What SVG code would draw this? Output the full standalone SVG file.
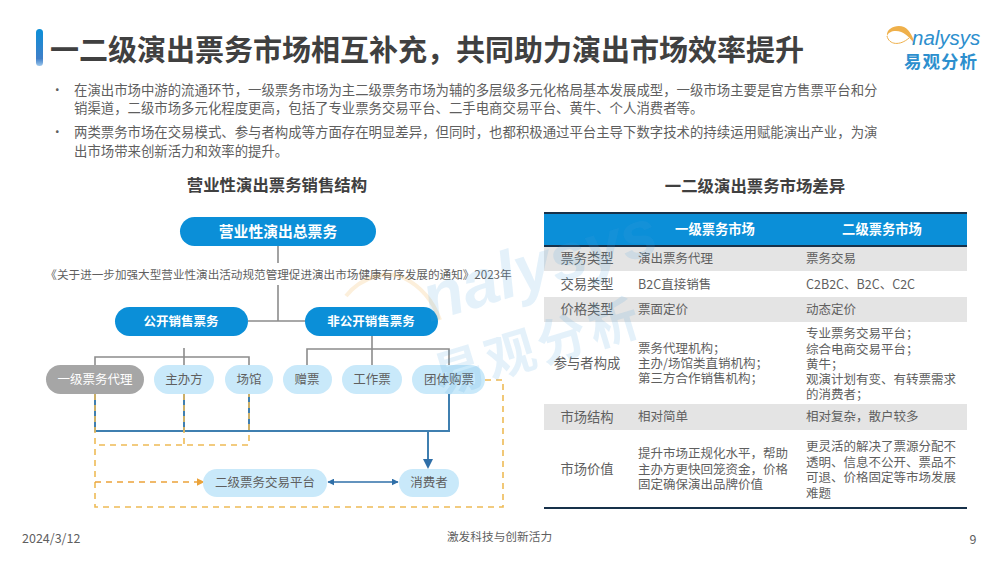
<svg xmlns="http://www.w3.org/2000/svg" width="1000" height="562" viewBox="0 0 1000 562">
<style>
text{font-family:"Noto Sans CJK SC","Liberation Sans",sans-serif;fill:#5f5f5f}
.t{font-size:12.5px}
.p{font-size:13.4px}
.f{font-size:13.3px}
.c{text-anchor:middle}
.h{font-size:16.4px;font-weight:700;fill:#404040;text-anchor:middle}
.w{fill:#fff;font-weight:700;text-anchor:middle}
.blue{fill:#0b8fd8}
.light{fill:#c9e9fa}
.g{fill:none;stroke:#8c8c8c;stroke-width:1.6}
.b{fill:none;stroke:#3f7fb0;stroke-width:2}
.o{fill:none;stroke:#eebb55;stroke-width:1.6;stroke-dasharray:6 5}
.wm{fill:#4a9fdc;fill-opacity:.15;font-weight:700}
</style>
<defs>
<linearGradient id="bar" x1="0" y1="0" x2="0" y2="1"><stop offset="0" stop-color="#0b8fd8"/><stop offset=".8" stop-color="#3f7fc8"/><stop offset="1" stop-color="#9cc7ec"/></linearGradient>
<marker id="ab" markerWidth="5" markerHeight="5" refX="4" refY="2.5" orient="auto" markerUnits="strokeWidth"><path d="M0 0L5 2.5L0 5z" fill="#2f6fa8"/></marker>
<marker id="abs" markerWidth="5" markerHeight="5" refX="4.5" refY="2.5" orient="auto-start-reverse" markerUnits="strokeWidth"><path d="M0 0L5 2.5L0 5z" fill="#2f6fa8"/></marker>
<marker id="ao" markerWidth="5" markerHeight="5" refX="4" refY="2.5" orient="auto" markerUnits="strokeWidth"><path d="M0 0L5 2.5L0 5z" fill="#eba33a"/></marker>
</defs>
<rect width="1000" height="562" fill="#fff"/>

<g id="header">
<rect x="36" y="29" width="7" height="37" rx="3.5" fill="url(#bar)"/>
<text x="50" y="61" style="font-size:29px;font-weight:700;fill:#404040">一二级演出票务市场相互补充，共同助力演出市场效率提升</text>
</g>
<g id="logo">
<path d="M887 36C886 28 897 24 904 27C910 30 913 37 915 45C910 37 903 31 896 31C891 31 888 33 887 36Z" fill="#efb04a"/>
<path d="M887 36C889 45 900 46 909 38" fill="none" stroke="#efb04a" stroke-width="1"/>
<text x="912" y="45" style="font-size:20.5px;font-style:italic;fill:#2d8fce;font-family:'Liberation Sans',sans-serif">nalysys</text>
<text x="904" y="68" style="font-size:17.5px;font-weight:700;fill:#2d8fce;letter-spacing:1px">易观分析</text>
</g>
<g id="bullets">
<text x="51" y="95" class="t">•</text>
<text class="p"><tspan x="74" y="95">在演出市场中游的流通环节，一级票务市场为主二级票务市场为辅的多层级多元化格局基本发展成型，一级市场主要是官方售票平台和分</tspan><tspan x="74" y="113">销渠道，二级市场多元化程度更高，包括了专业票务交易平台、二手电商交易平台、黄牛、个人消费者等。</tspan></text>
<text x="51" y="137" class="t">•</text>
<text class="p"><tspan x="74" y="137">两类票务市场在交易模式、参与者构成等方面存在明显差异，但同时，也都积极通过平台主导下数字技术的持续运用赋能演出产业，为演</tspan><tspan x="74" y="156">出市场带来创新活力和效率的提升。</tspan></text>
</g>

<text x="277" y="191" class="h">营业性演出票务销售结构</text>
<text x="755" y="192" class="h">一二级演出票务市场差异</text>

<g id="connectors">
<path class="g" d="M278 246V263M278 285V321M248 321H305"/>
<path class="g" d="M372 336V365M307 365V349H449V365"/>
<path class="g" d="M184 348V365M95 365V357H249V365"/>
<path class="b" d="M95 394V431H449V394M184 394V431M249 394V431"/>
<path class="o" d="M95 394V445H249V394M184 394V445"/>
<path class="o" d="M485 380H503V507H95V445"/>
<path class="b" d="M428 431V467" marker-end="url(#ab)"/>
<path d="M95 482H203" fill="none" stroke="#eba33a" stroke-width="1.6" stroke-dasharray="6 5" marker-end="url(#ao)"/>
<path d="M328 482H398" fill="none" stroke="#2f6fa8" stroke-width="1.4" marker-start="url(#abs)" marker-end="url(#abs)"/>
</g>

<g id="n-total"><rect class="blue" x="180" y="217" width="196" height="29" rx="14.5"/><text class="w" x="278" y="237" font-size="14.8">营业性演出总票务</text></g>
<g id="n-policy"><text x="278.5" y="279" class="c" style="font-size:11.6px">《关于进一步加强大型营业性演出活动规范管理促进演出市场健康有序发展的通知》2023年</text></g>
<g id="n-public"><rect class="blue" x="115" y="307" width="133" height="29" rx="14.5"/><text class="w" x="181" y="326" font-size="12.5">公开销售票务</text></g>
<g id="n-private"><rect class="blue" x="305" y="307" width="133" height="29" rx="14.5"/><text class="w" x="371" y="326" font-size="12.5">非公开销售票务</text></g>
<g id="n-agent"><rect fill="#a6a6a6" x="46" y="365" width="98" height="29" rx="14.5"/><text x="95" y="384" class="t c" style="fill:#fff">一级票务代理</text></g>
<g id="n-host"><rect class="light" x="154" y="365" width="60" height="29" rx="14.5"/><text x="184" y="384" class="t c">主办方</text></g>
<g id="n-venue"><rect class="light" x="225" y="365" width="48" height="29" rx="14.5"/><text x="249" y="384" class="t c">场馆</text></g>
<g id="n-gift"><rect class="light" x="283" y="365" width="49" height="29" rx="14.5"/><text x="307" y="384" class="t c">赠票</text></g>
<g id="n-staff"><rect class="light" x="342" y="365" width="60" height="29" rx="14.5"/><text x="372" y="384" class="t c">工作票</text></g>
<g id="n-group"><rect class="light" x="412" y="365" width="73" height="29" rx="14.5"/><text x="449" y="384" class="t c">团体购票</text></g>
<g id="n-platform"><rect class="light" x="203" y="469" width="124" height="28" rx="14"/><text x="265" y="487" class="t c">二级票务交易平台</text></g>
<g id="n-consumer"><rect class="light" x="399" y="469" width="60" height="28" rx="14"/><text x="429" y="487" class="t c">消费者</text></g>

<g id="table">
<rect x="544" y="213" width="423" height="33" fill="#0b8fd8"/>
<rect x="544" y="246" width="423" height="25" fill="#e4e4e4"/>
<rect x="544" y="297" width="423" height="25" fill="#e4e4e4"/>
<rect x="544" y="404" width="423" height="26" fill="#e4e4e4"/>
<path d="M544 213H967M544 246H967M544 508H967" stroke="#17314a" stroke-width="1.8" fill="none"/>
<text class="w" x="715" y="234" font-size="13.3">一级票务市场</text>
<text class="w" x="882" y="234" font-size="13.3">二级票务市场</text>
<text class="f c" x="587" y="263">票务类型</text><text class="t" x="638" y="263">演出票务代理</text><text class="t" x="806" y="263">票务交易</text>
<text class="f c" x="587" y="289">交易类型</text><text class="t" x="638" y="289">B2C直接销售</text><text class="t" x="806" y="289">C2B2C、B2C、C2C</text>
<text class="f c" x="587" y="314">价格类型</text><text class="t" x="638" y="314">票面定价</text><text class="t" x="806" y="314">动态定价</text>
<text class="f c" x="587" y="368">参与者构成</text>
<text class="t"><tspan x="638" y="353">票务代理机构；</tspan><tspan x="638" y="368">主办/场馆类直销机构；</tspan><tspan x="638" y="383">第三方合作销售机构；</tspan></text>
<text class="t"><tspan x="806" y="338">专业票务交易平台；</tspan><tspan x="806" y="354">综合电商交易平台；</tspan><tspan x="806" y="369">黄牛；</tspan><tspan x="806" y="384">观演计划有变、有转票需求</tspan><tspan x="806" y="399">的消费者；</tspan></text>
<text class="f c" x="587" y="422">市场结构</text><text class="t" x="638" y="421">相对简单</text><text class="t" x="806" y="421">相对复杂，散户较多</text>
<text class="f c" x="587" y="474">市场价值</text>
<text class="t"><tspan x="638" y="458">提升市场正规化水平，帮助</tspan><tspan x="638" y="474">主办方更快回笼资金，价格</tspan><tspan x="638" y="489">固定确保演出品牌价值</tspan></text>
<text class="t"><tspan x="806" y="451">更灵活的解决了票源分配不</tspan><tspan x="806" y="467">透明、信息不公开、票品不</tspan><tspan x="806" y="482">可退、价格固定等市场发展</tspan><tspan x="806" y="498">难题</tspan></text>
</g>

<g id="footer">
<text x="22" y="543" style="font-size:12.5px">2024/3/12</text>
<text x="499.500" y="541" class="c" style="font-size:11.700px">激发科技与创新活力</text>
<text x="973" y="544" class="c" style="font-size:12.5px">9</text>
</g>

<g id="watermark">
<path d="M346 296C362 276 388 270 404 278C420 286 432 298 440 320" fill="none" stroke="#efb04a" stroke-opacity=".2" stroke-width="4"/>
<text class="wm" transform="translate(430 322) rotate(-17)" style="font-size:66px;font-style:italic;font-family:'Liberation Sans',sans-serif">nalysys</text>
<text class="wm" transform="translate(440 395) rotate(-17)" style="font-size:50px;letter-spacing:4px">易观分析</text>
</g>
</svg>
